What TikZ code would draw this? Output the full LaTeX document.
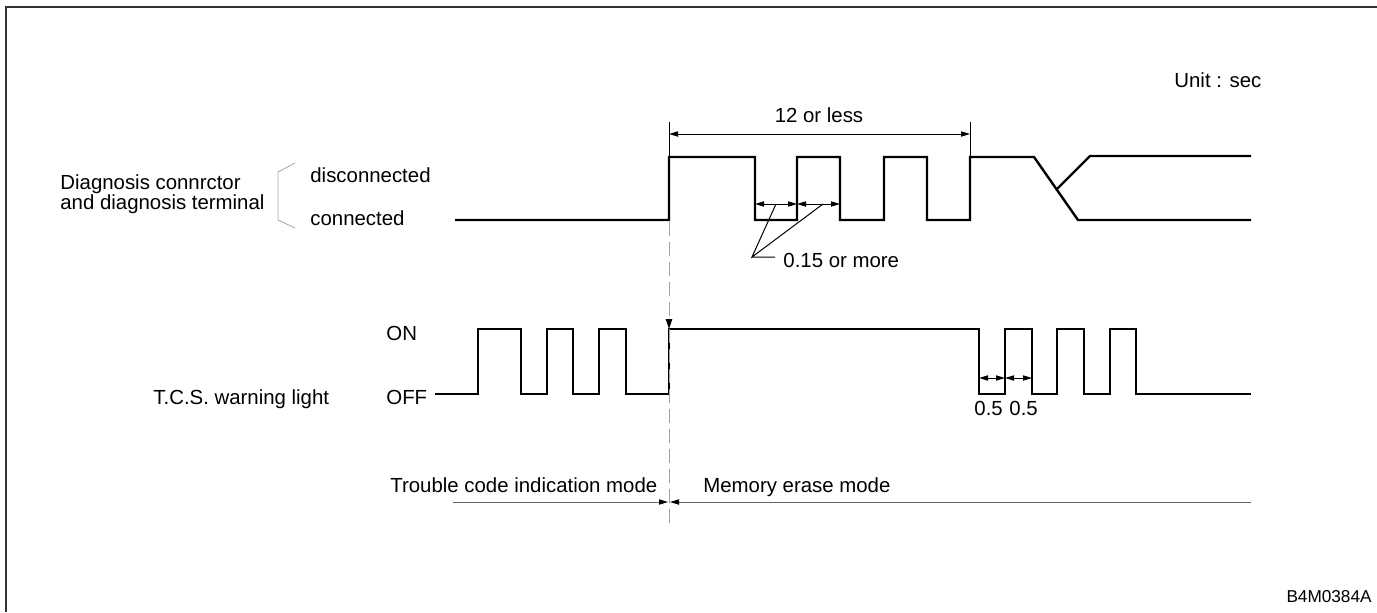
\documentclass[tikz,border=0pt]{standalone}
\usepackage{fontspec}
\setmainfont{Liberation Sans}
\usetikzlibrary{arrows.meta}

\begin{document}
\begin{tikzpicture}[
  x=0.5pt, y=-0.5pt,
  >={Triangle[length=4.5pt,width=2.6pt]},
  every node/.style={inner sep=0pt, font=\fontsize{10.2}{12}\selectfont},
  wave/.style={line width=1.2pt, line join=miter},
  leader/.style={line width=0.5pt},
  dim/.style={leader, <->},
  guide/.style={line width=0.5pt, gray!75, dash pattern=on 7pt off 3pt},
  bracket/.style={line width=0.4pt, gray!70}
  ]
\useasboundingbox (0,0) rectangle (1377,612);
\draw[line width=0.9pt, black!80] (6,612) -- (6,7) -- (1377,7);

\node[anchor=base west] (unit) at (1174,87) {Unit : sec};
\node[anchor=base] (less) at (819,122) {12 or less};
\node[anchor=base west] (diag1) at (60,189) {Diagnosis connrctor};
\node[anchor=base west] (diag2) at (60,209) {and diagnosis terminal};
\node[anchor=base west] (disc) at (310,182) {disconnected};
\node[anchor=base west] (conn) at (310,225) {connected};
\node[anchor=base west] (more) at (783,267) {0.15 or more};
\node[anchor=base west] (on) at (386,340) {ON};
\node[anchor=base west] (off) at (386,404) {OFF};
\node[anchor=base west] (tcs) at (153,404) {T.C.S. warning light};
\node[anchor=base west] (half1) at (974,415) {0.5};
\node[anchor=base west] (half2) at (1009,415) {0.5};
\node[anchor=base west] (trouble) at (390,492) {Trouble code indication mode};
\node[anchor=base west] (erase) at (703,492) {Memory erase mode};
\node[anchor=base east, font=\fontsize{8.6}{10}\selectfont] (code) at (1372,602) {B4M0384A};

\draw[bracket] (295,163) -- (278,172) -- (278,220) -- (295,228);

\draw[wave] (455,220) -| (669,157) -| (755,220) -| (797,157) -| (840,220) -| (884,157)
  -| (927,220) -| (970,157) -- (1034,157) -- (1078,220) -- (1251,220);
\draw[wave] (1057,189) -- (1090,156) -- (1251,156);

\draw[wave] (435,394) -| (478,329) -| (521,394) -| (547,329) -| (573,394) -| (599,329)
  -| (626,394) -| (669,329) -| (979,394) -| (1005,329) -| (1032,394) -| (1057,329)
  -| (1084,394) -| (1110,329) -| (1136,394) -- (1251,394);

\draw[leader] (669,122) -- (669,157) (970,122) -- (970,157);
\draw[dim] (669,134) -- (970,134);
\draw[dim] (755,204) -- (797,204);
\draw[dim] (797,204) -- (840,204);
\draw[leader] (776,204) -- (752,257) -- (823,204) (752,257) -- (775,257);
\draw[dim] (979,378) -- (1005,378);
\draw[dim] (1005,378) -- (1032,378);

\draw[guide, -{Triangle[length=5pt,width=3.2pt,black]}] (669,222) -- (669,329);
\draw[guide] (669,329) -- (669,523);
\draw[leader, gray!80!black, -{Triangle[length=4.5pt,width=2.6pt,black]}] (453,502) -- (668,502);
\draw[leader, gray!80!black, {Triangle[length=4.5pt,width=2.6pt,black]}-] (670,502) -- (1251,502);
\end{tikzpicture}
\end{document}
